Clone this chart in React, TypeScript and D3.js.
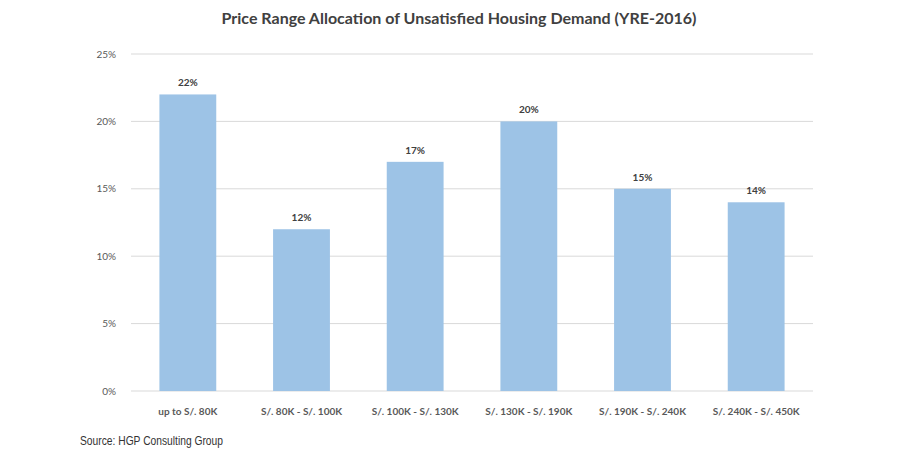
import React from "react";
import * as d3 from "d3";

const categories = [
  "up to S/. 80K",
  "S/. 80K - S/. 100K",
  "S/. 100K - S/. 130K",
  "S/. 130K - S/. 190K",
  "S/. 190K - S/. 240K",
  "S/. 240K - S/. 450K",
];
const values = [0.22, 0.12, 0.17, 0.2, 0.15, 0.14];
const yTicks = [0, 0.05, 0.1, 0.15, 0.2, 0.25];

export default function App() {
  const W = 900;
  const H = 458;
  const x = d3.scaleBand<string>().domain(categories).range([131, 813]).paddingInner(0.5).paddingOuter(0.25);
  const y = d3.scaleLinear().domain([0, 0.25]).range([391, 54]);
  const fmt = d3.format(".0%");
  const font = "Lato, 'Open Sans', sans-serif";
  return (
    <svg width={W} height={H} style={{ position: "absolute", left: 0, top: 0, background: "#fff" }}>
      <text x={459} y={24} textAnchor="middle" fontFamily={font} fontWeight="bold" fontSize={16} fill="#404040">
        Price Range Allocation of Unsatisfied Housing Demand (YRE-2016)
      </text>
      {yTicks.map((t) => (
        <g key={t}>
          <line x1={131} x2={813} y1={y(t)} y2={y(t)} stroke="#D9D9D9" strokeWidth={1} />
          <text x={116} y={y(t) + 3.5} textAnchor="end" fontFamily={font} fontSize={10} fill="#595959">
            {fmt(t)}
          </text>
        </g>
      ))}
      {categories.map((c, i) => (
        <g key={c}>
          <rect x={x(c)} y={y(values[i])} width={x.bandwidth()} height={y(0) - y(values[i])} fill="#9DC3E6" />
          <text x={x(c)! + x.bandwidth() / 2} y={y(values[i]) - 8} textAnchor="middle" fontFamily={font} fontWeight="bold" fontSize={10} fill="#404040">
            {fmt(values[i])}
          </text>
          <text x={x(c)! + x.bandwidth() / 2} y={415} textAnchor="middle" fontFamily={font} fontWeight="bold" fontSize={10} fill="#595959">
            {c}
          </text>
        </g>
      ))}
      <text x={80} y={445} fontFamily="'Liberation Sans', Arial, sans-serif" fontSize={12} fill="#333" textLength={143} lengthAdjust="spacingAndGlyphs">
        Source: HGP Consulting Group
      </text>
    </svg>
  );
}
